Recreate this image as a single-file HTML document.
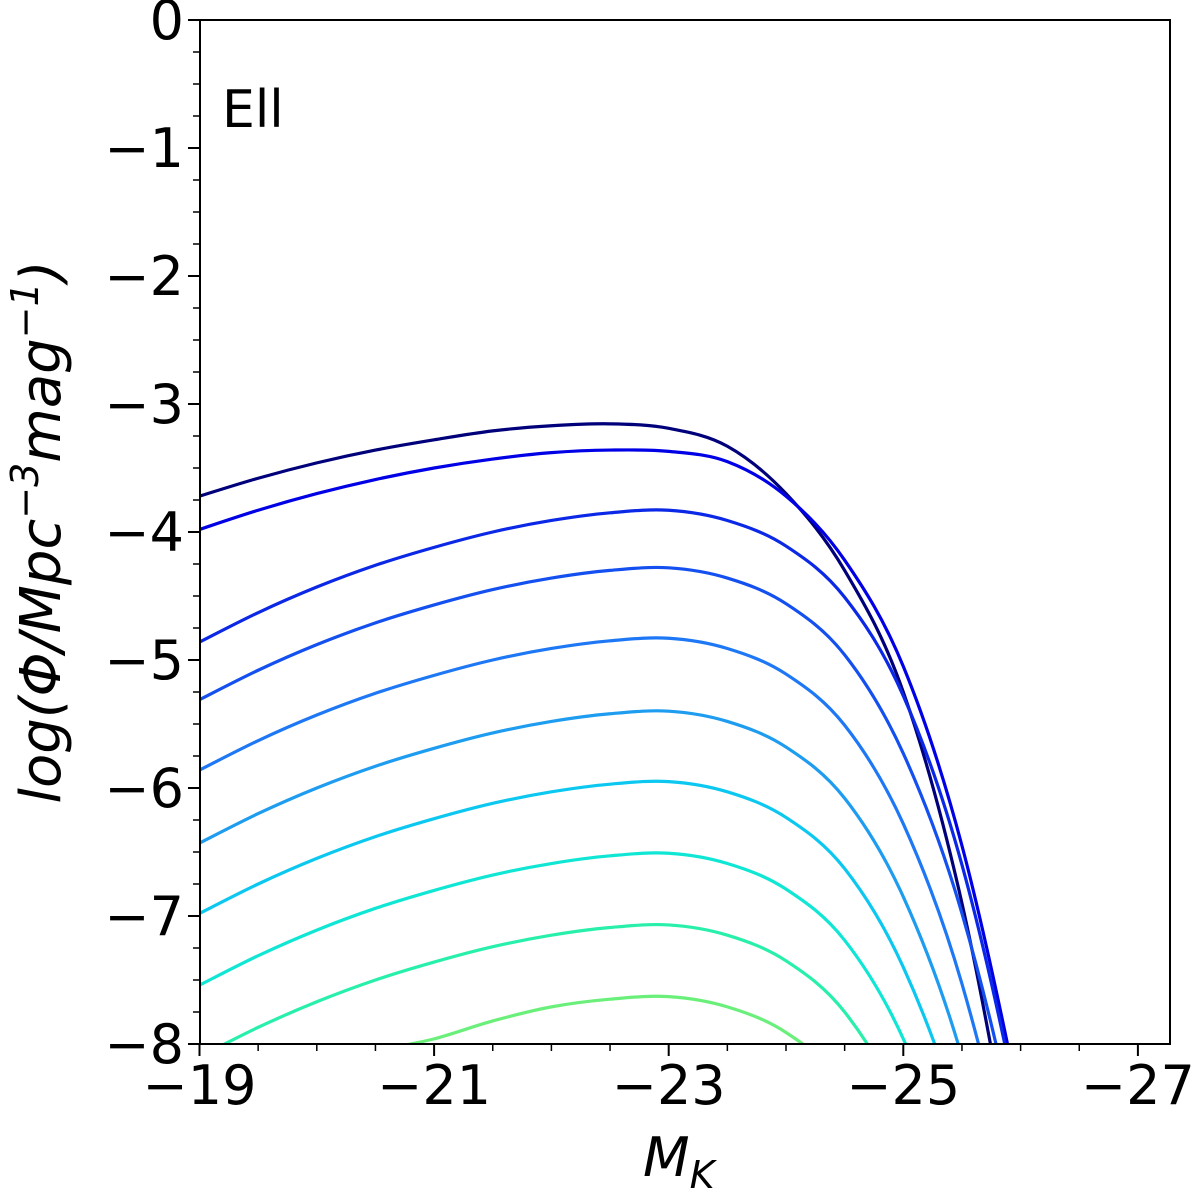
<!DOCTYPE html>
<html><head><meta charset="utf-8"><style>
html,body{margin:0;background:#fff;overflow:hidden;width:1200px;height:1198px}
svg{display:block}
svg text{font-family:"DejaVu Sans","Liberation Sans",sans-serif;fill:#000}
</style></head><body>
<svg id="chart" width="1200" height="1198" viewBox="0 0 1200 1198">
<defs><clipPath id="pc"><rect x="200" y="20" width="970" height="1024"/></clipPath></defs>
<rect x="0" y="0" width="1200" height="1198" fill="#fff"/>
<g id="curves" clip-path="url(#pc)"></g>
<g id="axes"></g>
<rect x="200" y="20" width="970" height="1024" fill="none" stroke="#000" stroke-width="2"/>
<text x="222" y="127" font-size="52">Ell</text>
<text x="643" y="1176" font-size="54" font-style="italic">M<tspan font-size="38" dy="12">K</tspan></text>
<text transform="translate(60,532) rotate(-90)" text-anchor="middle" font-size="56" font-style="italic">log(Φ/Mpc<tspan font-size="38" dy="-22">−3</tspan><tspan dy="22">mag</tspan><tspan font-size="38" dy="-22">−1</tspan><tspan dy="22">)</tspan></text>
</svg>
<script>
const mags=[-19,-19.5,-20,-20.5,-21,-21.5,-22,-22.5,-23,-23.5,-24,-24.5,-25,-25.5,-26,-26.5];
const s1=[-3.72,-3.58,-3.46,-3.36,-3.28,-3.21,-3.17,-3.155,-3.19,-3.33,-3.70,-4.30,-5.25,-6.9,-9.3,-12];
const s2=[-3.98,-3.83,-3.70,-3.59,-3.50,-3.43,-3.38,-3.36,-3.37,-3.45,-3.72,-4.22,-5.05,-6.45,-8.5,-11];
const s3=[-4.86,-4.63,-4.43,-4.26,-4.12,-4.00,-3.91,-3.85,-3.83,-3.91,-4.11,-4.51,-5.28,-6.60,-8.60,-11.2];
const s4=[-5.31,-5.08,-4.88,-4.71,-4.57,-4.45,-4.36,-4.30,-4.28,-4.36,-4.56,-4.96,-5.73,-6.98,-8.88,-11.48];
const s5=[-5.86,-5.63,-5.43,-5.26,-5.12,-5.00,-4.91,-4.85,-4.83,-4.91,-5.11,-5.51,-6.28,-7.53,-9.43,-12.03];
const s6=[-6.43,-6.20,-6.00,-5.83,-5.69,-5.57,-5.48,-5.42,-5.40,-5.48,-5.68,-6.08,-6.85,-8.10,-10.0,-12.6];
const s7=[-6.98,-6.75,-6.55,-6.38,-6.24,-6.12,-6.03,-5.97,-5.95,-6.03,-6.23,-6.63,-7.40,-8.65,-10.55,-13.15];
const s8=[-7.54,-7.31,-7.11,-6.94,-6.80,-6.68,-6.59,-6.53,-6.51,-6.59,-6.79,-7.19,-7.96,-9.21,-11.11,-13.71];
const s9=[-8.10,-7.87,-7.67,-7.50,-7.36,-7.24,-7.15,-7.09,-7.07,-7.15,-7.35,-7.75,-8.52,-9.77,-11.67,-14.27];
const s10=[-8.66,-8.43,-8.23,-8.06,-7.96,-7.82,-7.71,-7.65,-7.63,-7.71,-7.91,-8.31,-9.08,-10.33,-12.23,-14.83];
const seriesList=[s1,s2,s3,s4,s5,s6,s7,s8,s9,s10];
const colors=["#00007a","#0000e6","#0a28e6","#1450f0","#1e78f5","#1e9cf0","#0cc8f0","#10e6d4","#28f0aa","#6af07a"];
const xTicks=[-19,-21,-23,-25,-27];
const yTicks=[0,-1,-2,-3,-4,-5,-6,-7,-8];
const NS="http://www.w3.org/2000/svg";
const X=m=>199.5+(-19-m)*117.3;
const Y=v=>20+(-v)*128;
const cg=document.getElementById('curves');
seriesList.forEach((s,i)=>{
  const pts=mags.map((m,j)=>[X(m),Y(s[j])]);
  let d='M'+pts[0][0]+','+pts[0][1];
  for(let k=0;k<pts.length-1;k++){
    const p0=pts[Math.max(k-1,0)],p1=pts[k],p2=pts[k+1],p3=pts[Math.min(k+2,pts.length-1)];
    const c1=[p1[0]+(p2[0]-p0[0])/6,p1[1]+(p2[1]-p0[1])/6];
    const c2=[p2[0]-(p3[0]-p1[0])/6,p2[1]-(p3[1]-p1[1])/6];
    d+=` C${c1[0]},${c1[1]} ${c2[0]},${c2[1]} ${p2[0]},${p2[1]}`;
  }
  const p=document.createElementNS(NS,'path');
  p.setAttribute('d',d);p.setAttribute('fill','none');
  p.setAttribute('stroke',colors[i]);p.setAttribute('stroke-width','3.2');
  
  
  cg.appendChild(p);
});
const ax=document.getElementById('axes');
function line(x1,y1,x2,y2,w,name){
  const l=document.createElementNS(NS,'line');
  l.setAttribute('x1',x1);l.setAttribute('y1',y1);l.setAttribute('x2',x2);l.setAttribute('y2',y2);
  l.setAttribute('stroke','#000');l.setAttribute('stroke-width',w);
  
  
  ax.appendChild(l);
}
function txt(x,y,str,anchor,name){
  const t=document.createElementNS(NS,'text');
  t.setAttribute('x',x);t.setAttribute('y',y);t.setAttribute('font-size','54');
  t.setAttribute('text-anchor',anchor);t.textContent=str;
  
  
  ax.appendChild(t);
}
for(let m=-19;m>=-27.2;m-=0.5){
  const major=Math.abs(m-Math.round(m))<1e-6&&Math.round(m)%2!==0;
  line(X(m),1044,X(m),1044+(major?12:7),major?2:1.5,'x-tick');
}
xTicks.forEach(m=>txt(X(m),1104,'−'+Math.abs(m),'middle','x-tick-label'));
for(let v=0;v>=-8;v-=0.25){
  const major=Math.abs(v-Math.round(v))<1e-6;
  line(200,Y(v),200-(major?12:7),Y(v),major?2:1.5,'y-tick');
}
yTicks.forEach(v=>txt(184,Y(v)+19,v===0?'0':'−'+Math.abs(v),'end','y-tick-label'));
</script>
</body></html>
